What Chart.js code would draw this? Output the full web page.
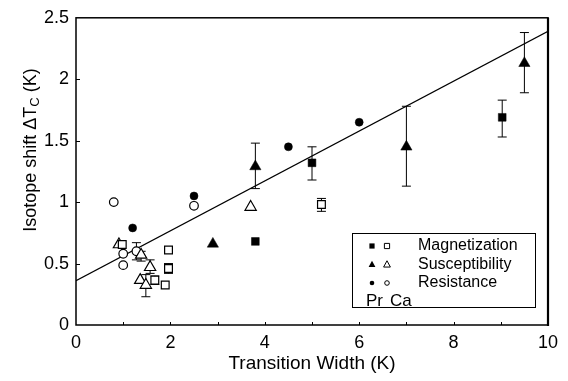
<!DOCTYPE html>
<html><head><meta charset="utf-8">
<script src="https://cdn.jsdelivr.net/npm/chart.js@4/dist/chart.umd.min.js"></script>
<style>html,body{margin:0;padding:0;background:#fff}</style>
</head><body>
<canvas id="c" width="568" height="381"></canvas>
<script>
// ---- data ----
const fitX = [0, 10];
const fitY = [0.36, 2.39];

const prMagX = [3.8, 5.0, 9.03];
const prMagY = [0.68, 1.32, 1.69];
const prMagLo = [null, 1.18, 1.53];
const prMagHi = [null, 1.45, 1.83];

const prSusX = [2.9, 3.8, 7.0, 9.5];
const prSusY = [0.66, 1.29, 1.45, 2.13];
const prSusLo = [null, 1.11, 1.13, 1.89];
const prSusHi = [null, 1.48, 1.78, 2.38];

const prResX = [1.2, 2.5, 4.5, 6.0];
const prResY = [0.79, 1.05, 1.45, 1.65];

const caMagX = [0.98, 1.67, 1.89, 1.96, 1.96, 5.2];
const caMagY = [0.655, 0.365, 0.325, 0.61, 0.46, 0.98];
const caMagLo = [null, 0.33, null, null, 0.42, 0.925];
const caMagHi = [null, 0.40, null, null, 0.50, 1.03];

const caSusX = [0.91, 1.38, 1.36, 1.48, 1.57, 3.7];
const caSusY = [0.655, 0.57, 0.365, 0.325, 0.47, 0.96];
const caSusLo = [null, 0.52, null, 0.23, 0.42, null];
const caSusHi = [null, 0.60, null, 0.41, 0.53, null];

const caResX = [0.8, 1.0, 1.0, 1.28, 2.5];
const caResY = [1.0, 0.58, 0.487, 0.6, 0.97];
const caResLo = [null, null, null, 0.53, null];
const caResHi = [null, null, null, 0.67, null];

const yTickLabels = ['0', '0.5', '1', '1.5', '2', '2.5'];
const xTickLabels = ['0', '2', '4', '6', '8', '10'];

const legendLabels = ['Magnetization', 'Susceptibility', 'Resistance'];
const legendFoot = ['Pr', 'Ca'];

const xTitle = 'Transition Width (K)';
const yTitleMain = 'Isotope shift \u0394T';
const yTitleSub = 'C';
const yTitleEnd = ' (K)';

function pts(xs, ys) { return xs.map((x, i) => ({x: x, y: ys[i]})); }
function errs(xs, lo, hi) { return xs.map((x, i) => lo[i] == null ? null : {x: x, lo: lo[i], hi: hi[i]}); }

const FONT = '"Liberation Sans", Arial, Helvetica, sans-serif';

function mk(label, xs, ys, style, filled, radius, lo, hi) {
  return {
    label: label, type: 'scatter', data: pts(xs, ys),
    pointStyle: style, pointRadius: radius, pointHoverRadius: radius,
    backgroundColor: filled ? '#000' : '#fff', borderColor: '#000',
    pointBorderWidth: filled ? 0.5 : 1.2,
    errs: lo ? errs(xs, lo, hi) : null, order: 1
  };
}

const datasets = [
  {label: 'fit', type: 'line', data: pts(fitX, fitY), borderColor: '#000', borderWidth: 1.2,
   pointRadius: 0, fill: false, tension: 0, order: 10},
  mk('Pr Magnetization', prMagX, prMagY, 'rect', true, 5.5, prMagLo, prMagHi),
  mk('Pr Susceptibility', prSusX, prSusY, 'triangle', true, 6.5, prSusLo, prSusHi),
  mk('Pr Resistance', prResX, prResY, 'circle', true, 4, null, null),
  mk('Ca Magnetization', caMagX, caMagY, 'rect', false, 5.5, caMagLo, caMagHi),
  mk('Ca Susceptibility', caSusX, caSusY, 'triangle', false, 6.5, caSusLo, caSusHi),
  mk('Ca Resistance', caResX, caResY, 'circle', false, 4.3, caResLo, caResHi)
];

const errorBars = {
  id: 'errorBars',
  beforeDatasetsDraw(chart) {
    const ctx = chart.ctx, xs = chart.scales.x, ys = chart.scales.y;
    ctx.save(); ctx.strokeStyle = '#000'; ctx.lineWidth = 1;
    chart.data.datasets.forEach(ds => {
      if (!ds.errs) return;
      ds.errs.forEach(e => {
        if (!e) return;
        const px = xs.getPixelForValue(e.x), y1 = ys.getPixelForValue(e.lo), y2 = ys.getPixelForValue(e.hi);
        ctx.beginPath();
        ctx.moveTo(px, y1); ctx.lineTo(px, y2);
        ctx.moveTo(px - 4.5, y1); ctx.lineTo(px + 4.5, y1);
        ctx.moveTo(px - 4.5, y2); ctx.lineTo(px + 4.5, y2);
        ctx.stroke();
      });
    });
    ctx.restore();
  }
};

function drawMarker(ctx, style, filled, x, y, r) {
  ctx.beginPath();
  if (style === 'rect') { ctx.rect(x - r, y - r, 2 * r, 2 * r); }
  else if (style === 'triangle') { ctx.moveTo(x, y - r * 1.1); ctx.lineTo(x + r, y + r * 0.75); ctx.lineTo(x - r, y + r * 0.75); ctx.closePath(); }
  else { ctx.arc(x, y, r, 0, Math.PI * 2); }
  if (filled) { ctx.fillStyle = '#000'; ctx.fill(); }
  else { ctx.fillStyle = '#fff'; ctx.fill(); ctx.lineWidth = 1; ctx.strokeStyle = '#000'; ctx.stroke(); }
}

const frame = {
  id: 'frame',
  afterDraw(chart) {
    const ctx = chart.ctx, a = chart.chartArea, xs = chart.scales.x, ys = chart.scales.y;
    ctx.save();
    ctx.strokeStyle = '#000';
    ctx.lineWidth = 1.5;
    ctx.strokeRect(a.left, a.top, a.right - a.left, a.bottom - a.top);
    ctx.lineWidth = 2.2;
    ctx.beginPath(); ctx.moveTo(a.right, a.top); ctx.lineTo(a.right, a.bottom + 1); ctx.stroke();
    ctx.lineWidth = 1;
    ctx.beginPath();
    for (let v = 1; v < 10; v++) {
      const px = Math.round(xs.getPixelForValue(v)) + 0.5;
      ctx.moveTo(px, a.bottom); ctx.lineTo(px, a.bottom - 3);
    }
    for (let v = 0.5; v < 2.5; v += 0.5) {
      const py = Math.round(ys.getPixelForValue(v)) + 0.5;
      ctx.moveTo(a.left, py); ctx.lineTo(a.left + 4, py);
    }
    ctx.stroke();

    // y title with subscript
    ctx.save();
    ctx.translate(31, 150);
    ctx.rotate(-Math.PI / 2);
    ctx.fillStyle = '#000';
    ctx.textBaseline = 'middle';
    const big = '18px ' + FONT, small = '13px ' + FONT;
    ctx.font = big; const w1 = ctx.measureText(yTitleMain).width; const w3 = ctx.measureText(yTitleEnd).width;
    ctx.font = small; const w2 = ctx.measureText(yTitleSub).width;
    let sx = -(w1 + w2 + w3) / 2;
    ctx.font = big; ctx.textAlign = 'left'; ctx.fillText(yTitleMain, sx, 0);
    ctx.font = small; ctx.fillText(yTitleSub, sx + w1, 4);
    ctx.font = big; ctx.fillText(yTitleEnd, sx + w1 + w2, 0);
    ctx.restore();

    // legend
    const lx = 352, ly = 233, lw = 183, lh = 74;
    ctx.lineWidth = 1;
    ctx.strokeRect(lx + 0.5, ly + 0.5, lw, lh);
    const rows = [['rect', 2.6], ['triangle', 3.4], ['circle', 2.3]];
    ctx.font = '16px ' + FONT; ctx.fillStyle = '#000'; ctx.textBaseline = 'middle'; ctx.textAlign = 'left';
    rows.forEach((r, i) => {
      const yy = ly + 13 + i * 18.5;
      drawMarker(ctx, r[0], true, 372, yy, r[1]);
      drawMarker(ctx, r[0], false, 387, yy, r[1]);
      ctx.fillStyle = '#000';
      ctx.fillText(legendLabels[i], 418, yy);
    });
    ctx.font = '17px ' + FONT;
    ctx.fillText(legendFoot[0], 366, ly + 68);
    ctx.fillText(legendFoot[1], 390, ly + 68);
    ctx.restore();
  }
};

new Chart(document.getElementById('c'), {
  data: {datasets: datasets},
  options: {
    responsive: false, animation: false,
    layout: {padding: {left: 0, right: 20, top: 17, bottom: 0}},
    plugins: {legend: {display: false}, tooltip: {enabled: false}},
    scales: {
      x: {
        type: 'linear', min: 0, max: 10,
        ticks: {stepSize: 2, color: '#000', font: {size: 18, family: FONT}, padding: 7, maxRotation: 0,
                callback: (v, i) => xTickLabels[i]},
        grid: {display: false, drawTicks: false}, border: {display: false},
        title: {display: true, text: xTitle, color: '#000', font: {size: 19, family: FONT}, padding: {top: 0, bottom: 6}},
        afterFit(s) { s.height = 56; }
      },
      y: {
        type: 'linear', min: 0, max: 2.5,
        ticks: {stepSize: 0.5, color: '#000', font: {size: 18, family: FONT}, padding: 7,
                callback: (v, i) => yTickLabels[i]},
        grid: {display: false, drawTicks: false}, border: {display: false},
        afterFit(s) { s.width = 76; }
      }
    }
  },
  plugins: [errorBars, frame]
});
</script>
</body></html>
